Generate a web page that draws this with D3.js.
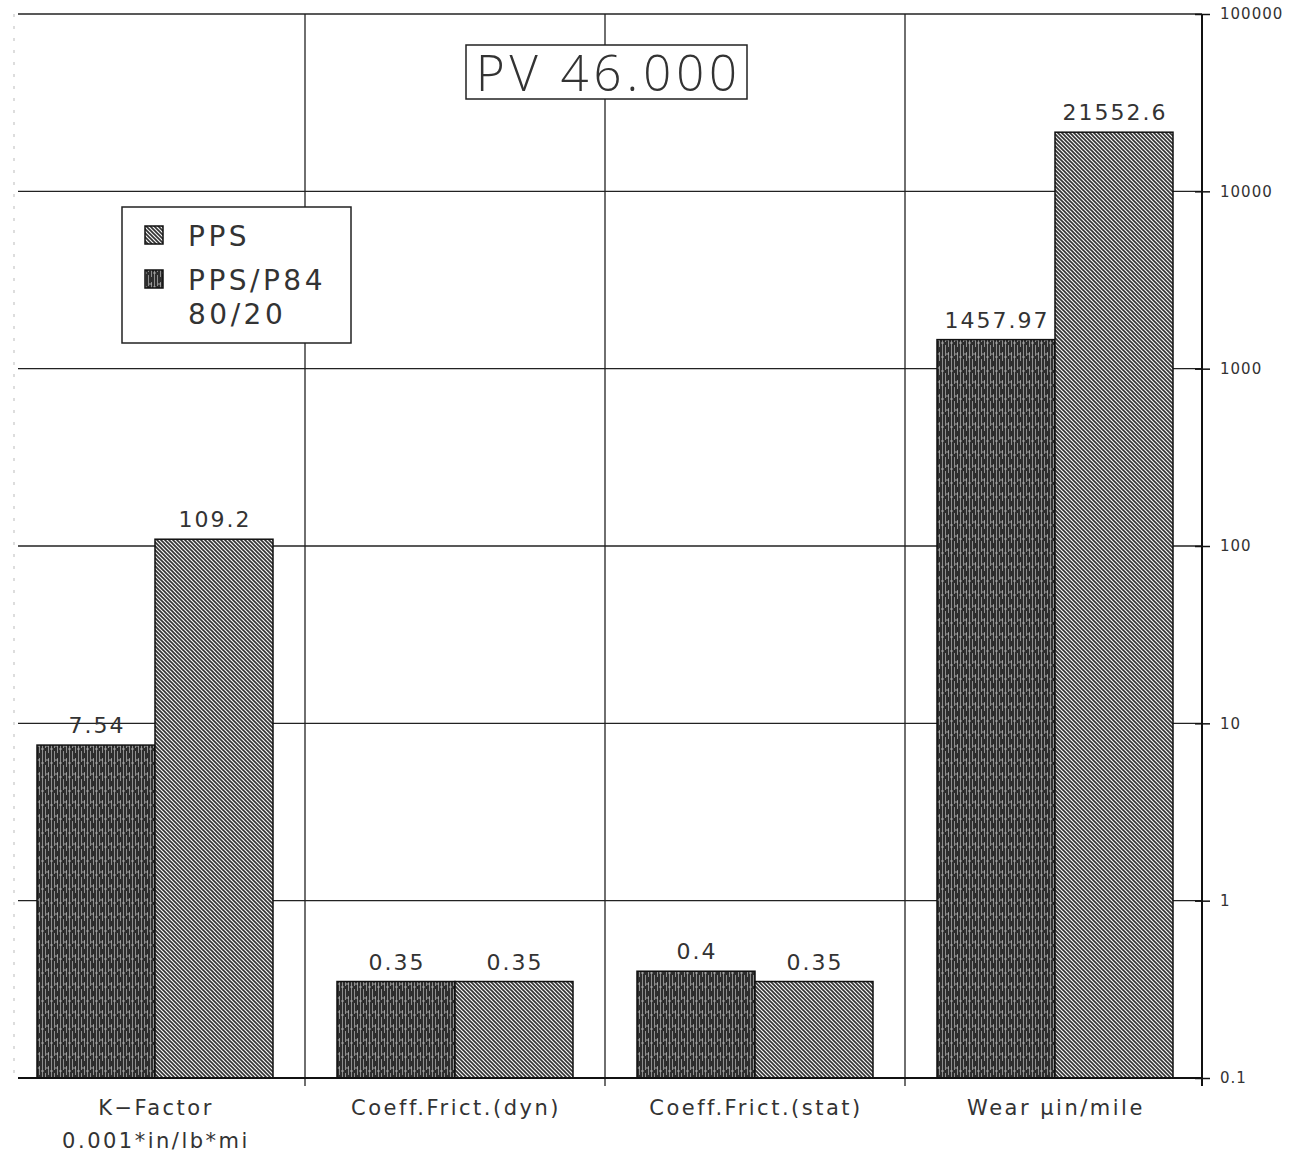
<!DOCTYPE html>
<html>
<head>
<meta charset="utf-8">
<script src="https://cdn.jsdelivr.net/npm/d3@7"></script>
<style>
  body { margin: 0; background: #fff; }
  text { font-family: "DejaVu Sans", "Liberation Sans", sans-serif; fill: #333; }
</style>
</head>
<body>
<svg></svg>
<script>
var categories = ['kfactor', 'dyn', 'stat', 'wear'];
var categoryLabels = [
  ['K\u2212Factor', '0.001*in/lb*mi'],
  ['Coeff.Frict.(dyn)'],
  ['Coeff.Frict.(stat)'],
  ['Wear \u00b5in/mile']
];
var seriesNames = ['PPS/P84 80/20', 'PPS'];
var blendValues = [7.54, 0.35, 0.4, 1457.97];
var ppsValues = [109.2, 0.35, 0.35, 21552.6];
var tickValues = [0.1, 1, 10, 100, 1000, 10000, 100000];
var tickLabels = ['0.1', '1', '10', '100', '1000', '10000', '100000'];
var titleText = 'PV 46.000';

window.Chart = (function() {
  var svgDS = { width: 1296, height: 1159 };
  var plot = { left: 18, right: 1202, top: 14, bottom: 1078 };
  var $svg;

  var defs = function defs() {
    var d = $svg.append('defs');
    // PPS: fine diagonal hatch
    var p1 = d.append('pattern').attr('id', 'hatch')
      .attr('patternUnits', 'userSpaceOnUse')
      .attr('width', 4).attr('height', 4);
    p1.append('rect').attr('width', 4).attr('height', 4).attr('fill', '#f4f4f4');
    p1.append('path').attr('d', 'M-1,-1 L5,5 M-1,3 L1,5 M3,-1 L5,1')
      .attr('stroke', '#333').attr('stroke-width', 1.6);
    // blend: dense dark vertical stripes with speckle
    var p2 = d.append('pattern').attr('id', 'stripe')
      .attr('patternUnits', 'userSpaceOnUse')
      .attr('width', 9).attr('height', 14);
    p2.append('rect').attr('width', 9).attr('height', 14).attr('fill', '#2e2e2e');
    p2.append('path').attr('d', 'M1.5,0 V14 M4.5,0 V6 M4.5,9 V14 M7.5,2 V11')
      .attr('stroke', '#9a9a9a').attr('stroke-width', 0.9);
    p2.append('path').attr('d', 'M0,7 H3 M5,4 H8')
      .attr('stroke', '#bbb').attr('stroke-width', 0.8);
  };

  var draw = function draw() {
    $svg = d3.select('svg')
      .attr('width', svgDS.width)
      .attr('height', svgDS.height);
    defs();

    var x0 = d3.scaleBand().domain(categories).range([5, 1205]);
    var x1 = d3.scaleBand().domain(seriesNames).range([32, 268]);
    var y = d3.scaleLog().domain([0.1, 100000]).range([plot.bottom, plot.top]);

    var fills = { 'PPS/P84 80/20': 'url(#stripe)', 'PPS': 'url(#hatch)' };
    var rows = categories.map(function(c, i) {
      return { cat: c, vals: [
        { s: seriesNames[0], v: blendValues[i] },
        { s: seriesNames[1], v: ppsValues[i] }
      ] };
    });

    var grid = $svg.append('g').attr('stroke', '#222').attr('stroke-width', 1.3);
    // horizontal decade lines
    grid.selectAll('line.h').data(tickValues).enter().append('line')
      .attr('x1', plot.left).attr('x2', plot.right)
      .attr('y1', function(d) { return y(d); })
      .attr('y2', function(d) { return y(d); });
    // vertical category separators
    grid.selectAll('line.v').data(categories.slice(1)).enter().append('line')
      .attr('x1', function(d) { return x0(d); })
      .attr('x2', function(d) { return x0(d); })
      .attr('y1', plot.top).attr('y2', plot.bottom + 8);
    // faint left edge
    $svg.append('line').attr('x1', 14).attr('x2', 14)
      .attr('y1', plot.top).attr('y2', plot.bottom)
      .attr('stroke', '#bbb').attr('stroke-width', 1).attr('stroke-dasharray', '3,9');

    // bars
    var groups = $svg.append('g').selectAll('g').data(rows).enter().append('g')
      .attr('transform', function(d) { return 'translate(' + x0(d.cat) + ',0)'; });
    groups.selectAll('rect').data(function(d) { return d.vals; }).enter().append('rect')
      .attr('x', function(d) { return x1(d.s); })
      .attr('y', function(d) { return y(d.v); })
      .attr('width', x1.bandwidth())
      .attr('height', function(d) { return plot.bottom - y(d.v); })
      .attr('fill', function(d) { return fills[d.s]; })
      .attr('stroke', '#111').attr('stroke-width', 1.5);
    groups.selectAll('text').data(function(d) { return d.vals; }).enter().append('text')
      .attr('x', function(d) { return x1(d.s) + x1.bandwidth() / 2 + 1; })
      .attr('y', function(d) { return y(d.v) - 12; })
      .attr('text-anchor', 'middle')
      .attr('font-size', 22)
      .attr('letter-spacing', 2)
      .text(function(d) { return String(d.v); });

    // bottom axis line
    $svg.append('line').attr('x1', plot.left).attr('x2', plot.right)
      .attr('y1', plot.bottom).attr('y2', plot.bottom)
      .attr('stroke', '#111').attr('stroke-width', 2);

    // right log axis
    var axis = d3.axisRight(y).tickValues(tickValues)
      .tickFormat(function(d, i) { return tickLabels[i]; })
      .tickSize(8).tickPadding(10);
    var $axis = $svg.append('g')
      .attr('transform', 'translate(' + plot.right + ',0)')
      .call(axis);
    $axis.select('.domain').attr('stroke', '#111').attr('stroke-width', 2)
      .attr('d', 'M0,' + plot.top + 'V' + (plot.bottom + 8));
    $axis.selectAll('.tick line').attr('x1', -7).attr('stroke', '#111').attr('stroke-width', 1.5);
    $axis.selectAll('.tick text')
      .attr('font-size', 15)
      .attr('letter-spacing', 1)
      .style('font-family', '"DejaVu Sans", sans-serif')
      .attr('fill', '#444');

    // category labels
    var labs = $svg.append('g').selectAll('text').data(categories).enter().append('text')
      .attr('x', function(d) { return x0(d) + x0.bandwidth() / 2 + 1; })
      .attr('y', 1115)
      .attr('text-anchor', 'middle')
      .attr('font-size', 21)
      .attr('fill', '#3a3a3a');
    labs.selectAll('tspan').data(function(d, i) { return categoryLabels[i]; }).enter().append('tspan')
      .attr('x', function() { return d3.select(this.parentNode).attr('x'); })
      .attr('dy', function(d, i) { return i === 0 ? 0 : 33; })
      .attr('letter-spacing', 2.5)
      .text(function(d) { return d; });

    // title box
    var tb = $svg.append('g');
    tb.append('rect').attr('x', 466).attr('y', 45).attr('width', 281).attr('height', 54)
      .attr('fill', '#fff').attr('stroke', '#222').attr('stroke-width', 1.5);
    tb.append('text').attr('x', 609).attr('y', 91)
      .attr('text-anchor', 'middle')
      .attr('font-size', 49)
      .attr('letter-spacing', 5)
      .style('font-family', '"Open Sans", "DejaVu Sans", sans-serif')
      .style('font-weight', 300)
      .attr('fill', '#333')
      .text(titleText);

    // legend
    var lg = $svg.append('g');
    lg.append('rect').attr('x', 122).attr('y', 207).attr('width', 229).attr('height', 136)
      .attr('fill', '#fff').attr('stroke', '#222').attr('stroke-width', 1.5);
    var legendItems = [
      { fill: 'url(#hatch)', lines: ['PPS'], y: 226 },
      { fill: 'url(#stripe)', lines: ['PPS/P84', '80/20'], y: 270 }
    ];
    var li = lg.selectAll('g').data(legendItems).enter().append('g');
    li.append('rect')
      .attr('x', 145).attr('y', function(d) { return d.y; })
      .attr('width', 18).attr('height', 18)
      .attr('fill', function(d) { return d.fill; })
      .attr('stroke', '#111').attr('stroke-width', 1.5);
    li.append('text')
      .attr('x', 188).attr('y', function(d) { return d.y + 20; })
      .attr('font-size', 28)
      .attr('letter-spacing', 3.5)
      .attr('fill', '#333')
      .selectAll('tspan').data(function(d) { return d.lines; }).enter().append('tspan')
      .attr('x', 188)
      .attr('dy', function(d, i) { return i === 0 ? 0 : 34; })
      .text(function(d) { return d; });
  };

  return { draw: draw };
})();

Chart.draw();
</script>
</body>
</html>
